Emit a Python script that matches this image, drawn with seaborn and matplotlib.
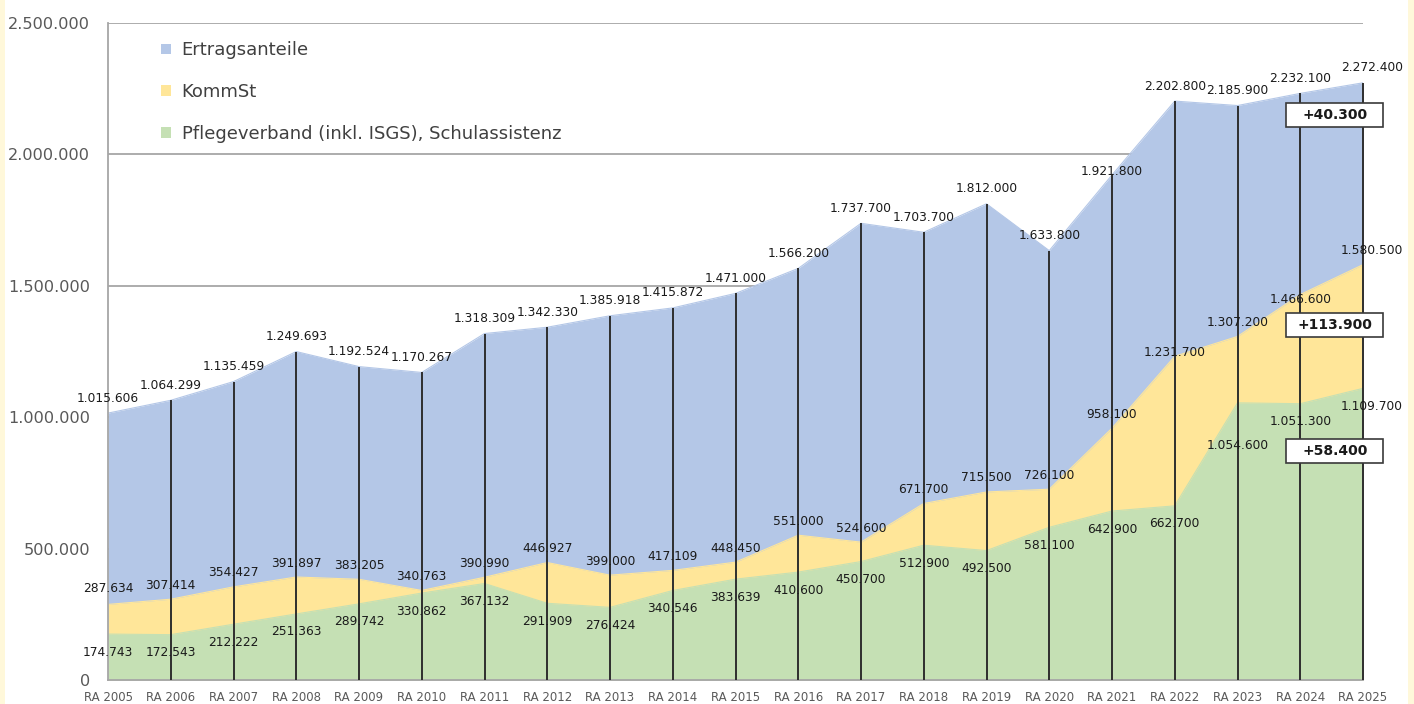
import matplotlib
matplotlib.use("Agg")
import matplotlib.pyplot as plt
import seaborn as sns
import numpy as np
import pandas as pd
from matplotlib.patches import Patch, Rectangle

# ---------------- data ----------------
year_labels = ["RA 2005", "RA 2006", "RA 2007", "RA 2008", "RA 2009", "RA 2010", "RA 2011",
               "RA 2012", "RA 2013", "RA 2014", "RA 2015", "RA 2016", "RA 2017", "RA 2018",
               "RA 2019", "RA 2020", "RA 2021", "RA 2022", "RA 2023", "RA 2024", "RA 2025"]

# cumulative level of the top of each area (as labelled in the chart)
ertragsanteile_level = [1015606, 1064299, 1135459, 1249693, 1192524, 1170267, 1318309,
                        1342330, 1385918, 1415872, 1471000, 1566200, 1737700, 1703700,
                        1812000, 1633800, 1921800, 2202800, 2185900, 2232100, 2272400]
kommst_level = [287634, 307414, 354427, 391897, 383205, 340763, 390990,
                446927, 399000, 417109, 448450, 551000, 524600, 671700,
                715500, 726100, 958100, 1231700, 1307200, 1466600, 1580500]
pflege_level = [174743, 172543, 212222, 251363, 289742, 330862, 367132,
                291909, 276424, 340546, 383639, 410600, 450700, 512900,
                492500, 581100, 642900, 662700, 1054600, 1051300, 1109700]

series_names = ["Ertragsanteile", "KommSt", "Pflegeverband (inkl. ISGS), Schulassistenz"]

# ---------------- styling ----------------
C_BLUE = "#B4C7E7"
C_YELLOW = "#FFE699"
C_GREEN = "#C5E0B4"
C_TEXT = "#1a1a1a"
C_AXIS = "#595959"

sns.set_theme(style="white")
plt.rcParams["font.family"] = ["DejaVu Sans"]

df = pd.DataFrame({
    "idx": np.arange(len(year_labels)),
    "year": year_labels,
    "total": ertragsanteile_level,
    "kommst": kommst_level,
    "pflege": pflege_level,
})

W, H = 1414, 704
fig = plt.figure(figsize=(W / 100, H / 100), dpi=100)
fig.patch.set_facecolor("white")
# thin yellow slide border at the left and right edges
fig.patches.append(Rectangle((0, 0), 5 / W, 1, transform=fig.transFigure,
                             facecolor="#FFF8DA", edgecolor="none", zorder=0))
fig.patches.append(Rectangle((1408 / W, 0), 6 / W, 1, transform=fig.transFigure,
                             facecolor="#FFF8DA", edgecolor="none", zorder=0))

ax = fig.add_axes([108 / W, 24 / H, 1255 / W, 657 / H])
ax.set_facecolor("white")

x = df["idx"].to_numpy()
ax.fill_between(x, 0, df["total"], color=C_BLUE, lw=0, zorder=1)
ax.fill_between(x, 0, df["kommst"], color=C_YELLOW, lw=0, zorder=1.1)
ax.fill_between(x, 0, df["pflege"], color=C_GREEN, lw=0, zorder=1.2)
sns.lineplot(data=df, x="idx", y="total", color=C_BLUE, lw=0.8, ax=ax, zorder=1.05)
sns.lineplot(data=df, x="idx", y="kommst", color=C_YELLOW, lw=0.8, ax=ax, zorder=1.15)
sns.lineplot(data=df, x="idx", y="pflege", color=C_GREEN, lw=0.8, ax=ax, zorder=1.25)

# drop lines (the first year sits on the y axis)
drop = ax.vlines(x[1:], 0, df["total"].to_numpy()[1:], color="#2e2e2e", lw=1.4, zorder=3)
drop.set_clip_on(False)

ax.set_xlim(0, len(year_labels) - 1)
ax.set_ylim(0, 2500000)
ax.set_xlabel("")
ax.set_ylabel("")

yt = np.arange(0, 2500001, 500000)
ax.set_yticks(yt)
ax.set_yticklabels([f"{int(v):,}".replace(",", ".") for v in yt], fontsize=11.6, color=C_AXIS)
ax.set_xticks(x)
ax.set_xticklabels(year_labels, fontsize=8.5, color=C_AXIS)
ax.tick_params(axis="y", length=0, pad=13)
ax.tick_params(axis="x", length=0, pad=8)
ax.yaxis.grid(True, color="#A6A6A6", lw=1.3, zorder=0)
ax.xaxis.grid(False)
ax.set_axisbelow(True)
for s in ["top", "right"]:
    ax.spines[s].set_visible(False)
for s in ["left", "bottom"]:
    ax.spines[s].set_color("#A6A6A6")
    ax.spines[s].set_linewidth(1.3)


def fmt(v):
    return f"{int(v):,}".replace(",", ".")


# data labels (offsets in pixels)
y_off = {"total": 15, "kommst": 14, "pflege": -18}
special = {("total", 16): 3, ("kommst", 17): 4, ("kommst", 19): -5, ("pflege", 18): -43,
           ("kommst", 0): 16}
for key in ["total", "kommst", "pflege"]:
    for i, v in enumerate(df[key]):
        dy = special.get((key, i), y_off[key])
        dx = 9 if i == len(x) - 1 else 0
        ax.annotate(fmt(v), (i, v), xytext=(dx, dy), textcoords="offset pixels",
                    ha="center", va="center", fontsize=8.8, color=C_TEXT, zorder=5,
                    annotation_clip=False)

# difference boxes for the last year
diffs = [
    (ertragsanteile_level[-1] - ertragsanteile_level[-2], 2150000),
    (kommst_level[-1] - kommst_level[-2], 1352000),
    (pflege_level[-1] - pflege_level[-2], 871000),
]
bw = 97 / (1255 / 20)
bh = 24 / 657 * 2500000
xc = 19.55
for d, yc in diffs:
    rect = Rectangle((xc - bw / 2, yc - bh / 2), bw, bh, facecolor="white",
                     edgecolor="#3a3a3a", lw=1.2, zorder=6)
    rect.set_clip_on(False)
    ax.add_patch(rect)
    ax.text(xc, yc, "+" + fmt(d), ha="center", va="center", fontsize=10,
            fontweight="bold", color=C_TEXT, zorder=7, clip_on=False)

handles = [Patch(facecolor=c, edgecolor="none") for c in [C_BLUE, C_YELLOW, C_GREEN]]
leg = ax.legend(handles, series_names, loc="upper left", bbox_to_anchor=(0.0422, 0.9720),
                frameon=False, fontsize=13, borderaxespad=0, borderpad=0,
                handlelength=0.55, handleheight=0.55, handletextpad=0.6, labelspacing=1.32)
for t in leg.get_texts():
    t.set_color("#404040")
leg.set_zorder(8)

fig.savefig("out.png", dpi=100)
